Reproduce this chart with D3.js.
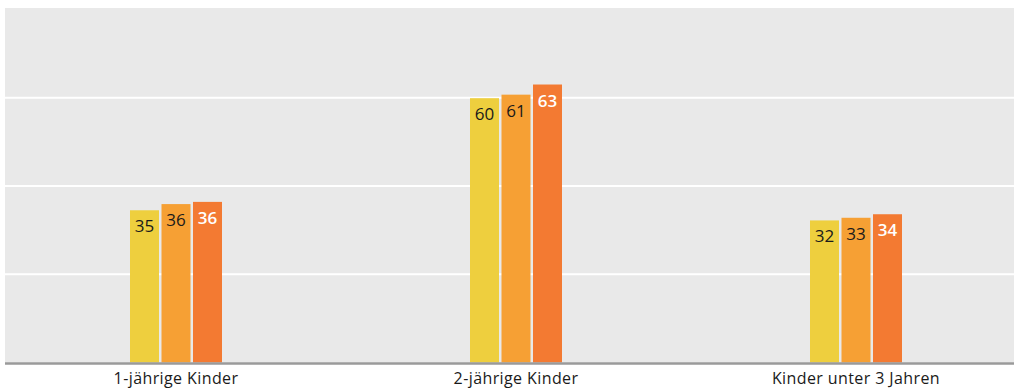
<!DOCTYPE html>
<html><head><meta charset="utf-8">
<script src="https://cdn.jsdelivr.net/npm/d3@7"></script>
<style>html,body{margin:0;padding:0;background:#fff;}svg{display:block;}</style>
</head><body>
<svg id="chart" width="1014" height="388"></svg>
<script>
const categories = ["1-jährige Kinder", "2-jährige Kinder", "Kinder unter 3 Jahren"];
const seriesNames = ["Reihe 1", "Reihe 2", "Reihe 3"];
const series1 = [34.5, 59.9, 32.2];
const series2 = [35.9, 60.7, 32.8];
const series3 = [36.4, 63.0, 33.6];
const labels1 = [35, 60, 32];
const labels2 = [36, 61, 33];
const labels3 = [36, 63, 34];
const yTicks = [0, 20, 40, 60, 80];

const colors = ["#eecf3e", "#f6a034", "#f37a32"];
const labelColors = ["#1a1a1a", "#1a1a1a", "#ffffff"];
const allSeries = [series1, series2, series3];
const allLabels = [labels1, labels2, labels3];

const svg = d3.select("#chart");
const plot = {left: 5, top: 8, bottom: 362.5};
const x = d3.scaleBand().domain(categories).range([6, 1026]);
const y = d3.scaleLinear().domain([0, 80]).range([plot.bottom, plot.top + 1.5]);
const barW = 29, barStep = 31.5;

svg.append("rect").attr("x", plot.left).attr("y", plot.top)
  .attr("width", 1014 - plot.left).attr("height", plot.bottom - plot.top)
  .attr("fill", "#e9e9e9");

svg.append("g").selectAll("line").data(yTicks.filter(d => d > 0 && d < 80)).join("line")
  .attr("x1", plot.left).attr("x2", 1014)
  .attr("y1", d => y(d)).attr("y2", d => y(d))
  .attr("stroke", "#ffffff").attr("stroke-width", 2);

const rows = [];
categories.forEach((c, i) => {
  allSeries.forEach((s, j) => {
    rows.push({c, j, v: s[i], lab: allLabels[j][i]});
  });
});

const cx = c => x(c) + x.bandwidth() / 2;
const bx = d => cx(d.c) + (d.j - 1) * barStep - barW / 2;

svg.append("g").selectAll("rect").data(rows).join("rect")
  .attr("x", bx).attr("width", barW)
  .attr("y", d => y(d.v)).attr("height", d => y(0) - y(d.v))
  .attr("fill", d => colors[d.j]);

svg.append("g").selectAll("text").data(rows).join("text")
  .attr("x", d => bx(d) + barW / 2).attr("y", d => y(d.v) + 22)
  .attr("text-anchor", "middle")
  .attr("font-family", "'Open Sans', sans-serif").attr("font-size", 17)
  .attr("font-weight", d => d.j === 2 ? 600 : 400)
  .attr("fill", d => labelColors[d.j])
  .text(d => d.lab);

svg.append("line").attr("x1", plot.left).attr("x2", 1014)
  .attr("y1", y(0) + 1).attr("y2", y(0) + 1)
  .attr("stroke", "#9a9a9a").attr("stroke-width", 2.5);

const xAxis = d3.axisBottom(x).tickSize(0).tickPadding(0);
const gx = svg.append("g").attr("transform", `translate(0,${y(0)})`).call(xAxis);
gx.select(".domain").remove();
gx.selectAll("text").attr("dy", null).attr("y", 21.5)
  .attr("font-family", "'Open Sans', sans-serif").attr("font-size", 16)
  .attr("letter-spacing", "0.4px")
  .attr("fill", "#1a1a1a");
</script>
</body></html>
